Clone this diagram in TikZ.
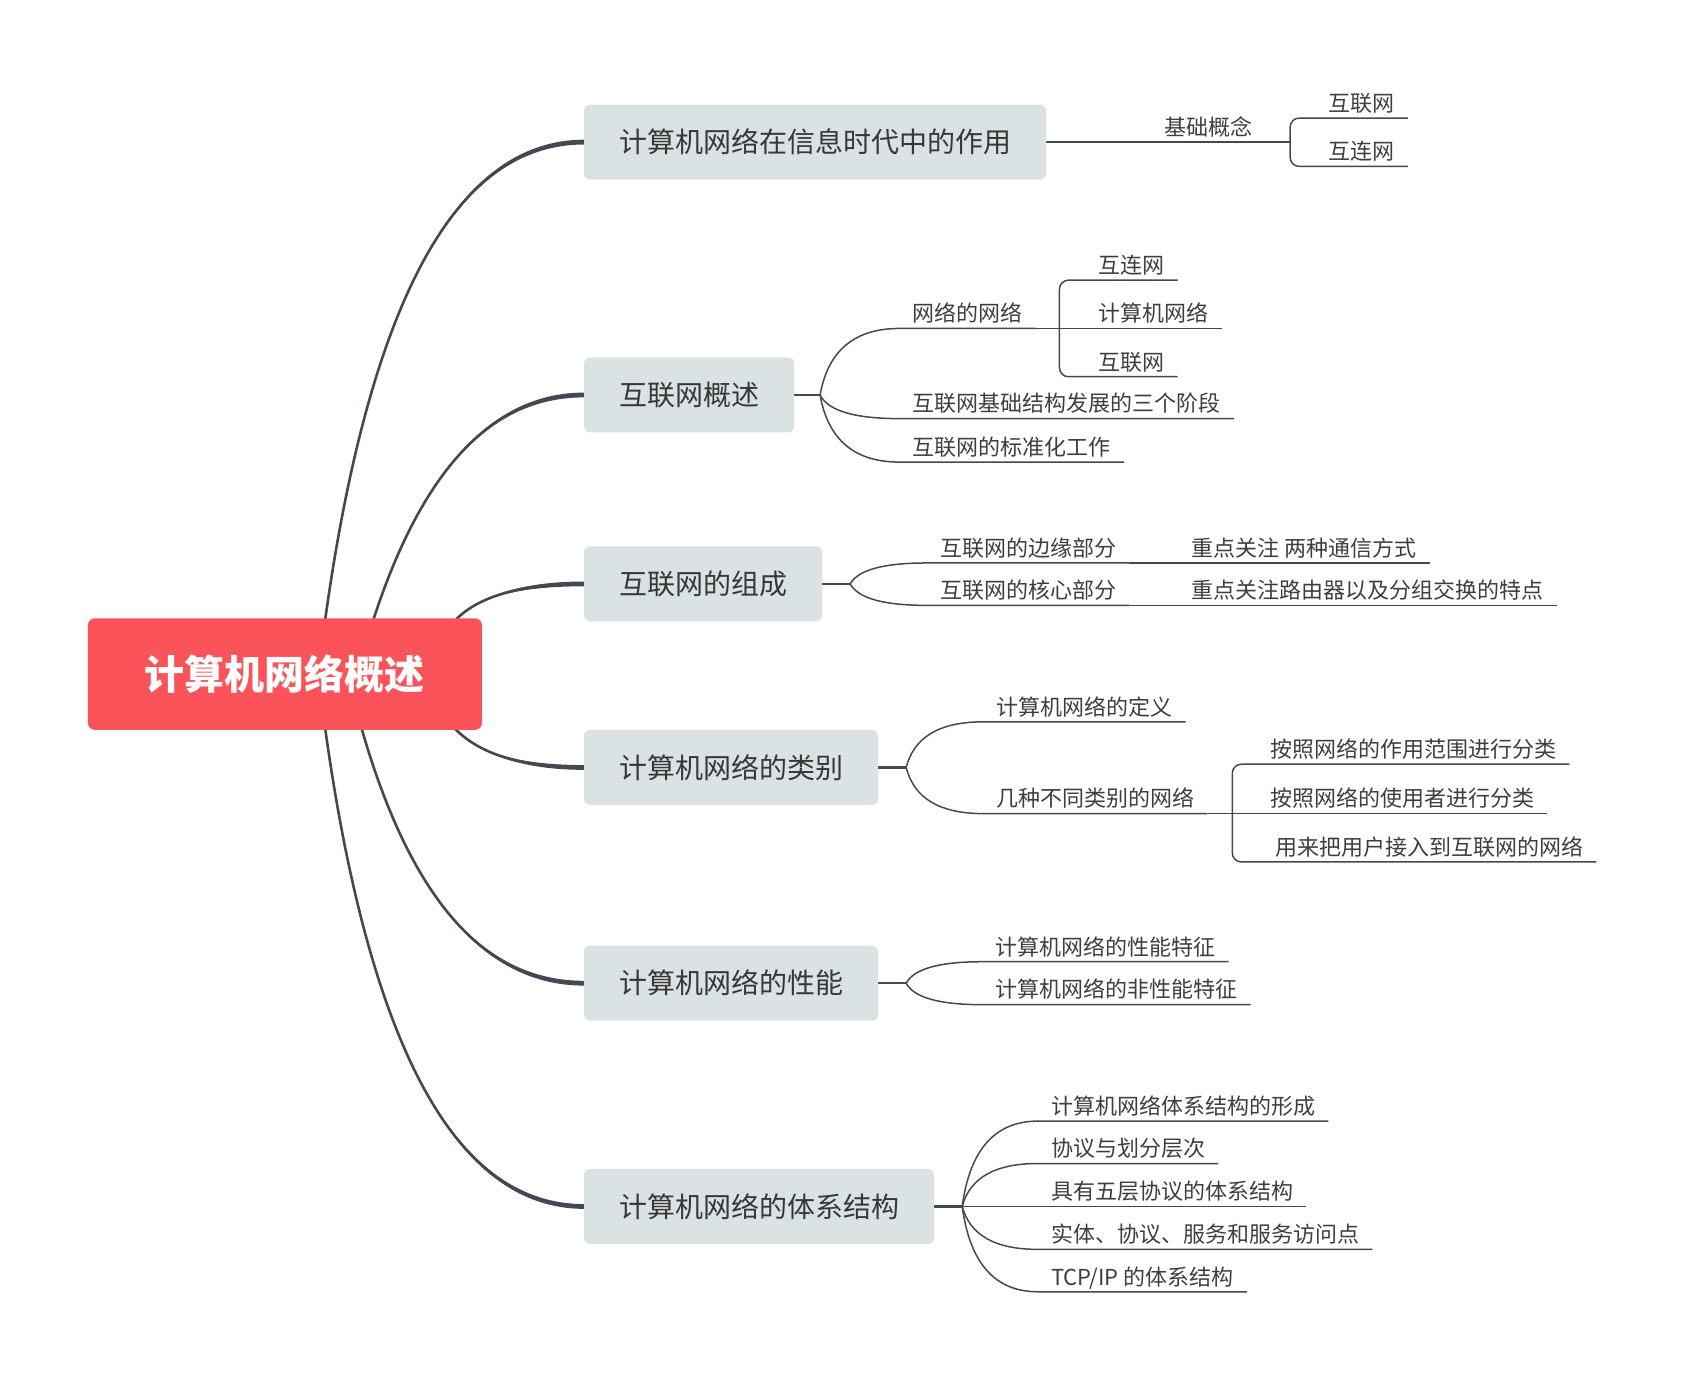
\documentclass[tikz,border=0pt]{standalone}
\usepackage{fontspec}
\setmainfont{Noto Sans CJK SC}
\usetikzlibrary{calc,backgrounds}
\definecolor{lc}{RGB}{66,73,83}
\definecolor{boxfill}{RGB}{219,226,228}
\definecolor{rootred}{RGB}{251,83,90}
\definecolor{topictxt}{RGB}{55,55,55}
\definecolor{leaftxt}{RGB}{62,62,62}
\tikzset{
  rootbox/.style={fill=rootred, rounded corners=7pt, minimum width=394pt, minimum height=111.6pt,
    text=white, font=\fontsize{40pt}{48pt}\selectfont\bfseries, inner sep=0pt,
    text height=35.2pt, text depth=4.8pt},
  topic/.style={fill=boxfill, rounded corners=6pt, minimum height=75pt, inner xsep=35pt, inner ysep=0pt,
    text=topictxt, font=\fontsize{28pt}{34pt}\selectfont, text height=24.6pt, text depth=3.4pt, anchor=west},
  leaf/.style={anchor=south west, inner xsep=13pt, inner ysep=3.9pt, text=leaftxt,
    font=\fontsize{22pt}{26pt}\selectfont, text height=19.4pt, text depth=2.6pt},
  mainline/.style={draw=lc, line width=2.6pt},
  stubline/.style={draw=lc, line width=2.4pt},
  subline/.style={draw=lc, line width=1.5pt},
}
% fan curve from fork #1 to leaf #2 (with its underline)
\newcommand\fanleaf[2]{%
  \coordinate (qc) at ($(#1 |- #2.south west)!0.15!(#2.south west)$);
  \draw[subline] (#1) .. controls ($(#1)!0.6667!(qc)$) and ($(#2.south west)!0.6667!(qc)$) .. (#2.south west) -- (#2.south east);
}
% bracket from junction #1 to leaf #2
\newcommand\brkleaf[2]{%
  \draw[subline, rounded corners=9pt] (#1) |- (#2.south west) -- (#2.south east);
}
% tapered root curve: start #1, control #2, box #3
\newcommand\rootcurve[3]{%
  \coordinate (p1) at ($(#1)!0.6667!(#2)$);
  \coordinate (p2) at ($(#3.west)!0.6667!(#2)$);
  \fill[lc] (#1) .. controls (p1) and ($(p2)+(0,-2.4pt)$) .. ($(#3.west)+(0,-2.4pt)$)
    -- ($(#3.west)+(0,2.4pt)$) .. controls ($(p2)+(0,2.4pt)$) and (p1) .. (#1) -- cycle;
  \draw[mainline] (#1) .. controls (p1) and (p2) .. (#3.west);
}
\begin{document}
\begin{tikzpicture}[x=1.0733pt, y=-1.0733pt]
\useasboundingbox (0,0) rectangle (1568,1287);

% root and topics
\node[rootbox] (root) at (265.5,628) {计算机网络概述};
\node[topic] (B1) at (544,132.4) {计算机网络在信息时代中的作用};
\node[topic] (B2) at (544,368) {互联网概述};
\node[topic] (B3) at (544,544) {互联网的组成};
\node[topic] (B4) at (544,715) {计算机网络的类别};
\node[topic] (B5) at (544,916) {计算机网络的性能};
\node[topic] (B6) at (544,1124) {计算机网络的体系结构};

% leaves
\node[leaf] (L1a) at (1072.4,132.4) {基础概念};
\node[leaf] (L1b) at (1225.5,110) {互联网};
\node[leaf] (L1c) at (1225.5,155) {互连网};

\node[leaf] (L2a) at (838,306) {网络的网络};
\node[leaf] (L2a1) at (1011,261) {互连网};
\node[leaf] (L2a2) at (1011,306) {计算机网络};
\node[leaf] (L2a3) at (1011,351) {互联网};
\node[leaf] (L2b) at (838,390) {互联网基础结构发展的三个阶段};
\node[leaf] (L2c) at (838,430.5) {互联网的标准化工作};

\node[leaf] (L3a) at (863.5,524.5) {互联网的边缘部分};
\node[leaf] (L3a1) at (1098,524.5) {重点关注 两种通信方式};
\node[leaf] (L3b) at (863.5,564) {互联网的核心部分};
\node[leaf] (L3b1) at (1098,564) {重点关注路由器以及分组交换的特点};

\node[leaf] (L4a) at (916,672.5) {计算机网络的定义};
\node[leaf] (L4b) at (916,758) {几种不同类别的网络};
\node[leaf] (L4b1) at (1171,712) {按照网络的作用范围进行分类};
\node[leaf] (L4b2) at (1171,758) {按照网络的使用者进行分类};
\node[leaf] (L4b3) at (1171,803) {\hspace*{5pt}用来把用户接入到互联网的网络};

\node[leaf] (L5a) at (915,896) {计算机网络的性能特征};
\node[leaf] (L5b) at (915,936) {计算机网络的非性能特征};

\node[leaf] (L6a) at (967,1044.5) {计算机网络体系结构的形成};
\node[leaf] (L6b) at (967,1084) {协议与划分层次};
\node[leaf] (L6c) at (967,1124) {具有五层协议的体系结构};
\node[leaf] (L6d) at (967,1164) {实体、协议、服务和服务访问点};
\node[leaf] (L6e) at (967,1203.5) {TCP/IP 的体系结构};

\begin{scope}[on background layer]
% root branches
\coordinate (s1) at (303,577);  \coordinate (c1) at (365,132.4);
\coordinate (s2) at (348,577);  \coordinate (c2) at (416,368);
\coordinate (s3) at (425,577);  \coordinate (c3) at (458,544);
\coordinate (s4) at (424,679);  \coordinate (c4) at (459,715);
\coordinate (s5) at (337,679);  \coordinate (c5) at (405,916);
\coordinate (s6) at (303,679);  \coordinate (c6) at (365,1124);
\rootcurve{s1}{c1}{B1}
\rootcurve{s2}{c2}{B2}
\rootcurve{s3}{c3}{B3}
\rootcurve{s4}{c4}{B4}
\rootcurve{s5}{c5}{B5}
\rootcurve{s6}{c6}{B6}

% branch 1
\coordinate (j1) at ($(L1a.south east)+(23,0)$);
\draw[subline] (B1.east) -- (L1a.south west) -- (L1a.south east) -- (j1);
\brkleaf{j1}{L1b}
\brkleaf{j1}{L1c}

% branch 2
\coordinate (f2) at ($(B2.east)+(24,0)$);
\draw[stubline] (B2.east) -- (f2);
\fanleaf{f2}{L2a}
\fanleaf{f2}{L2b}
\fanleaf{f2}{L2c}
\coordinate (j2) at ($(L2a.south east)+(22,0)$);
\draw[subline] (L2a.south east) -- (j2) -- (L2a2.south west) -- (L2a2.south east);
\brkleaf{j2}{L2a1}
\brkleaf{j2}{L2a3}

% branch 3
\coordinate (f3) at ($(B3.east)+(26,0)$);
\draw[stubline] (B3.east) -- (f3);
\fanleaf{f3}{L3a}
\fanleaf{f3}{L3b}
\draw[subline] (L3a.south east) -- (L3a1.south west) -- (L3a1.south east);
\draw[subline] (L3b.south east) -- (L3b1.south west) -- (L3b1.south east);

% branch 4
\coordinate (f4) at ($(B4.east)+(26,0)$);
\draw[stubline] (B4.east) -- (f4);
\fanleaf{f4}{L4a}
\fanleaf{f4}{L4b}
\coordinate (j4) at ($(L4b.south east)+(23,0)$);
\draw[subline] (L4b.south east) -- (j4) -- (L4b2.south west) -- (L4b2.south east);
\brkleaf{j4}{L4b1}
\brkleaf{j4}{L4b3}

% branch 5
\coordinate (f5) at ($(B5.east)+(26,0)$);
\draw[stubline] (B5.east) -- (f5);
\fanleaf{f5}{L5a}
\fanleaf{f5}{L5b}

% branch 6
\coordinate (f6) at ($(B6.east)+(26,0)$);
\draw[stubline] (B6.east) -- (f6);
\fanleaf{f6}{L6a}
\fanleaf{f6}{L6b}
\draw[subline] (f6) -- (L6c.south west) -- (L6c.south east);
\fanleaf{f6}{L6d}
\fanleaf{f6}{L6e}
\end{scope}
\end{tikzpicture}
\end{document}
